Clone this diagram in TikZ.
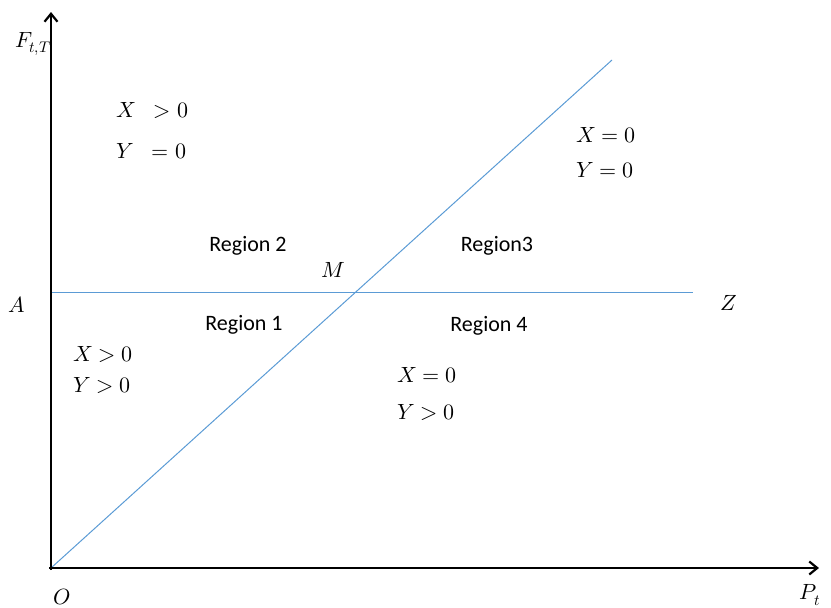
\documentclass[tikz,border=0pt]{standalone}
\usepackage{fontspec}
\usepackage{unicode-math}
\setmathfont{Latin Modern Math}
\newfontfamily\regfont{Carlito}
\usetikzlibrary{arrows.meta}
\definecolor{lineblue}{RGB}{91,155,213}
\tikzset{
  axis/.style={line width=2.6pt,-{Straight Barb[length=8pt,width=13pt,line width=2.2pt]}},
  bline/.style={draw=lineblue,line width=1pt},
  mlab/.style={font=\fontsize{22}{26}\selectfont,inner sep=0pt},
  rlab/.style={font=\regfont\fontsize{22}{26}\selectfont,inner sep=0pt},
}
\begin{document}
\begin{tikzpicture}[x=1pt,y=-1pt]
\useasboundingbox (0,0) rectangle (831,608);
\coordinate (O) at (51,568);
\coordinate (top) at (51,12);
\coordinate (right) at (819,568);
\coordinate (D) at (612,60);
\coordinate (H1) at (52,292);
\coordinate (H2) at (693,292);
\draw[bline] (O) -- (D);
\draw[bline] (H1) -- (H2);
\draw[axis] (51,570) -- (top);
\draw[axis] (49,568) -- (right);
\node[mlab] (F) at (33,44) {$F_{t,T}$};
\node[mlab] (P) at (810,595) {$P_t$};
\node[mlab] (Olab) at (62,597) {$O$};
\node[mlab] (A) at (17,305) {$A$};
\node[mlab] (Z) at (729,303) {$Z$};
\node[mlab] (M) at (333,270) {$M$};
\node[mlab,anchor=west] (x1) at (116,111) {$X\;\;>0$};
\node[mlab,anchor=west] (y1) at (116,151) {$Y\;\;=0$};
\node[mlab,anchor=west] (x2) at (576,135) {$X=0$};
\node[mlab,anchor=west] (y2) at (576,170) {$Y=0$};
\node[mlab,anchor=west] (x3) at (73,355) {$X>0$};
\node[mlab,anchor=west] (y3) at (73,386) {$Y>0$};
\node[mlab,anchor=west] (x4) at (397,375) {$X=0$};
\node[mlab,anchor=west] (y4) at (397,413) {$Y>0$};
\node[rlab] (r2) at (248,246) {Region 2};
\node[rlab] (r3) at (497,246) {Region3};
\node[rlab] (r1) at (244,325) {Region 1};
\node[rlab] (r4) at (489,326) {Region 4};
\end{tikzpicture}
\end{document}
